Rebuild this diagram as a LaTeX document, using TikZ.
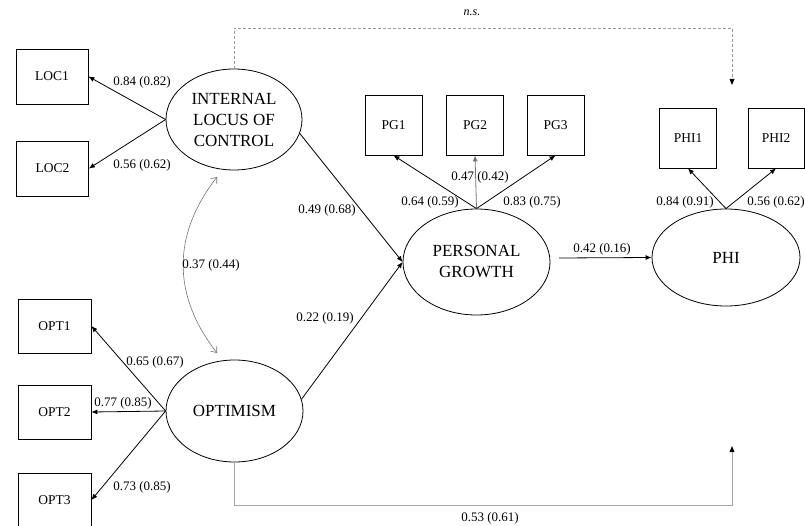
\documentclass[tikz,border=0pt]{standalone}
\usepackage{fontspec}
\setmainfont{Liberation Serif}
\usetikzlibrary{shapes.geometric,arrows.meta}
\begin{document}
\begin{tikzpicture}[x=1pt,y=-1pt,
  box/.style={draw,line width=0.8pt,rectangle,inner sep=0pt,font=\fontsize{13.5}{15}\selectfont},
  lbox/.style={box,minimum width=72pt,minimum height=55pt},
  sbox/.style={box,minimum width=57pt,minimum height=60pt},
  lat/.style={draw,line width=0.8pt,ellipse,inner sep=0pt,align=center,font=\fontsize{17}{21}\selectfont},
  lbl/.style={font=\fontsize{13}{15}\selectfont,inner sep=1pt},
  arr/.style={line width=0.8pt,-{Latex[length=6pt,width=5pt]}},
  corr/.style={line width=0.6pt,draw=black!55,{Straight Barb[length=5pt,width=8pt]}-{Straight Barb[length=5pt,width=8pt]}},
  grayline/.style={line width=0.9pt,draw=black!35,-{Latex[length=6pt,width=5pt]},fill=black}
]
\useasboundingbox (0,0) rectangle (805,526);
% indicators
\node[lbox] (loc1) at (52,76.5) {LOC1};
\node[lbox] (loc2) at (52.5,168.5) {LOC2};
\node[lbox,minimum width=73pt,minimum height=54pt] (opt1) at (54.5,326) {OPT1};
\node[lbox,minimum width=73pt,minimum height=54pt] (opt2) at (54.5,412) {OPT2};
\node[lbox,minimum width=73pt,minimum height=54pt] (opt3) at (54.5,500) {OPT3};
\node[sbox] (pg1) at (393.5,125) {PG1};
\node[sbox] (pg2) at (475,125) {PG2};
\node[sbox] (pg3) at (555.5,125) {PG3};
\node[sbox] (phi1) at (688,138) {PHI1};
\node[sbox,minimum width=56pt] (phi2) at (776,138) {PHI2};
% latent variables
\node[lat,minimum width=136pt,minimum height=101pt] (int) at (234,119.5) {INTERNAL\\LOCUS OF\\CONTROL};
\node[lat,minimum width=137pt,minimum height=102pt] (opt) at (234.5,411) {OPTIMISM};
\node[lat,minimum width=147pt,minimum height=106pt] (pg) at (476.5,262) {PERSONAL\\GROWTH};
\node[lat,minimum width=148pt,minimum height=97pt] (phi) at (726,257.5) {PHI};
% coordinates
\coordinate (nsR) at (732,28);
\coordinate (nsTip) at (732,85);
\coordinate (btR) at (732,505);
\coordinate (btTip) at (732,446);
\coordinate (cTop) at (217,177);
\coordinate (cBot) at (217,353);
\coordinate (pgOut) at (559,258);
% measurement arrows
\draw[arr] (int.west) -- (loc1.east);
\draw[arr] (int.west) -- (loc2.east);
\draw[arr] (opt.west) -- (opt1.east);
\draw[arr] (opt.west) -- (opt2.east);
\draw[arr] (opt.west) -- (opt3.east);
\draw[arr] (pg.north) -- (pg1.south);
\draw[arr,draw=black!55] (pg.north) -- (pg2.south);
\draw[arr] (pg.north) -- (pg3.south);
\draw[arr] (phi.north) -- (phi1.south);
\draw[arr] (phi.north) -- (phi2.south);
% structural paths
\draw[arr] (int.-12) -- (pg.west);
\draw[arr] (opt.10) -- (pg.west);
\draw[arr] (pgOut) -- (phi.west);
\draw[corr] (cTop) .. controls (172,235) and (172,295) .. (cBot);
\draw[line width=0.8pt,draw=black!40,dashed,dash pattern=on 3pt off 2pt] (int.north) |- (nsR) -- ([yshift=5pt]nsTip);
\draw[draw=none,fill=black] (nsTip) -- ++(-2.5,-6) -- ++(5,0) -- cycle;
\draw[line width=0.9pt,draw=black!35] (opt.south) |- (btR) -- ([yshift=-5pt]btTip);
\draw[draw=none,fill=black] (btTip) -- ++(-2.5,6) -- ++(5,0) -- cycle;
% labels
\node[lbl,font=\fontsize{12}{14}\selectfont\itshape] (ns) at (472,13) {n.s.};
\node[lbl] (l53) at (490,518) {0.53 (0.61)};
\node[lbl] (l84a) at (142,82) {0.84 (0.82)};
\node[lbl] (l56a) at (142,165) {0.56 (0.62)};
\node[lbl] (l65) at (155,362) {0.65 (0.67)};
\node[lbl] (l77) at (123,403) {0.77 (0.85)};
\node[lbl] (l73) at (142,487) {0.73 (0.85)};
\node[lbl] (l49) at (327,210) {0.49 (0.68)};
\node[lbl] (l22) at (325,318) {0.22 (0.19)};
\node[lbl] (l64) at (430,202) {0.64 (0.59)};
\node[lbl] (l47) at (480,177) {0.47 (0.42)};
\node[lbl] (l83) at (532,202) {0.83 (0.75)};
\node[lbl] (l84b) at (685,202) {0.84 (0.91)};
\node[lbl] (l56b) at (776,202) {0.56 (0.62)};
\node[lbl] (l42) at (602,249) {0.42 (0.16)};
\node[lbl] (l37) at (211,265) {0.37 (0.44)};
\end{tikzpicture}
\end{document}
